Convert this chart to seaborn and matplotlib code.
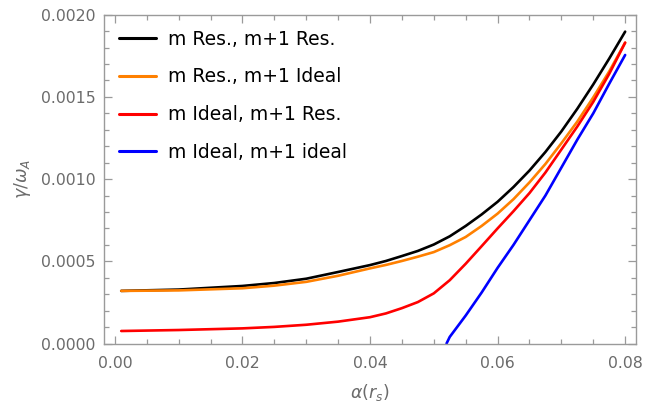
import numpy as np
import pandas as pd
import matplotlib
matplotlib.use("Agg")
import matplotlib.pyplot as plt
import seaborn as sns
from matplotlib.ticker import MultipleLocator

# ---- data ----
x_grid = [0.001, 0.01, 0.02, 0.025, 0.03, 0.035, 0.04, 0.0425, 0.045, 0.0475, 0.05,
          0.0525, 0.055, 0.0575, 0.06, 0.0625, 0.065, 0.0675, 0.07, 0.0725,
          0.075, 0.0775, 0.08]
res_res = [0.000320, 0.000328, 0.000350, 0.000368, 0.000394, 0.000435, 0.000477, 0.000502,
           0.000532, 0.000563, 0.000602, 0.000652, 0.000715, 0.000785, 0.000862,
           0.000952, 0.001052, 0.001165, 0.001290, 0.001428, 0.001576, 0.001733,
           0.001897]
res_ideal = [0.000320, 0.000323, 0.000336, 0.000352, 0.000375, 0.000412, 0.000457, 0.000478,
             0.000502, 0.000528, 0.000556, 0.000598, 0.000648, 0.000715, 0.000790,
             0.000878, 0.000980, 0.001092, 0.001218, 0.001350, 0.001497, 0.001655,
             0.001830]
ideal_res = [0.000076, 0.000082, 0.000092, 0.000101, 0.000114, 0.000133, 0.000160, 0.000183,
             0.000215, 0.000252, 0.000305, 0.000385, 0.000485, 0.000592, 0.000700,
             0.000805, 0.000915, 0.001040, 0.001180, 0.001320, 0.001470, 0.001640,
             0.001830]
x_blue = [0.052, 0.0525, 0.055, 0.0575, 0.06, 0.0625, 0.065, 0.0675, 0.07,
          0.0725, 0.075, 0.0775, 0.08]
ideal_ideal = [0.0, 0.00004, 0.00017, 0.00031, 0.00046, 0.00060, 0.00075, 0.00090,
               0.00107, 0.00124, 0.00140, 0.00158, 0.001755]

labels = ["m Res., m+1 Res.", "m Res., m+1 Ideal", "m Ideal, m+1 Res.", "m Ideal, m+1 ideal"]
colors = ["#000000", "#FF8000", "#FF0000", "#0000FF"]

frames = []
for lab, xs, ys in [(labels[0], x_grid, res_res), (labels[1], x_grid, res_ideal),
                    (labels[2], x_grid, ideal_res), (labels[3], x_blue, ideal_ideal)]:
    frames.append(pd.DataFrame({"x": xs, "y": ys, "series": lab}))
df = pd.concat(frames, ignore_index=True)

sns.set_theme(style="white")
plt.rcParams["font.family"] = ["DejaVu Sans"]
plt.rcParams["mathtext.fontset"] = "dejavusans"

fig = plt.figure(figsize=(6.57, 4.09), dpi=100)
ax = fig.add_axes([104 / 657, 1 - 343.5 / 409, (636 - 104) / 657, (343.5 - 14.7) / 409])

sns.lineplot(data=df, x="x", y="y", hue="series", hue_order=labels,
             palette=dict(zip(labels, colors)), linewidth=1.9, ax=ax,
             sort=False, estimator=None)

ax.set_xlim(-0.0017, 0.0817)
ax.set_ylim(0, 0.0020)
ax.xaxis.set_major_locator(MultipleLocator(0.02))
ax.xaxis.set_minor_locator(MultipleLocator(0.005))
ax.yaxis.set_major_locator(MultipleLocator(0.0005))
ax.yaxis.set_minor_locator(MultipleLocator(0.0001))
ax.set_xticks([0.0, 0.02, 0.04, 0.06, 0.08])
ax.set_xticklabels(["0.00", "0.02", "0.04", "0.06", "0.08"])
ax.set_yticks([0.0, 0.0005, 0.0010, 0.0015, 0.0020])
ax.set_yticklabels(["0.0000", "0.0005", "0.0010", "0.0015", "0.0020"])

gray = "#6b6b6b"
framec = "#9a9a9a"
for s in ax.spines.values():
    s.set_color(framec)
    s.set_linewidth(1.0)
    s.set_visible(True)
ax.tick_params(which="both", direction="in", top=True, right=True,
               bottom=True, left=True, color=framec, labelcolor=gray,
               labelsize=11.3, width=0.9)
ax.tick_params(which="major", length=6)
ax.tick_params(axis="x", which="major", pad=9)
ax.tick_params(axis="y", which="major", pad=6)
ax.tick_params(which="minor", length=3.5)

ax.set_xlabel(r"$\alpha(r_s)$", color=gray, fontsize=12.5, labelpad=8)
ax.set_ylabel(r"$\gamma/\omega_A$", color=gray, fontsize=12.5, labelpad=6)

leg = ax.legend(loc="upper left", frameon=False, fontsize=13.5,
                handlelength=1.95, handletextpad=0.68, labelspacing=1.0,
                borderaxespad=0.4, bbox_to_anchor=(0.0, 1.0))
for line in leg.get_lines():
    line.set_linewidth(2.2)
for t in leg.get_texts():
    t.set_color("black")

fig.savefig("out.png", dpi=100)
